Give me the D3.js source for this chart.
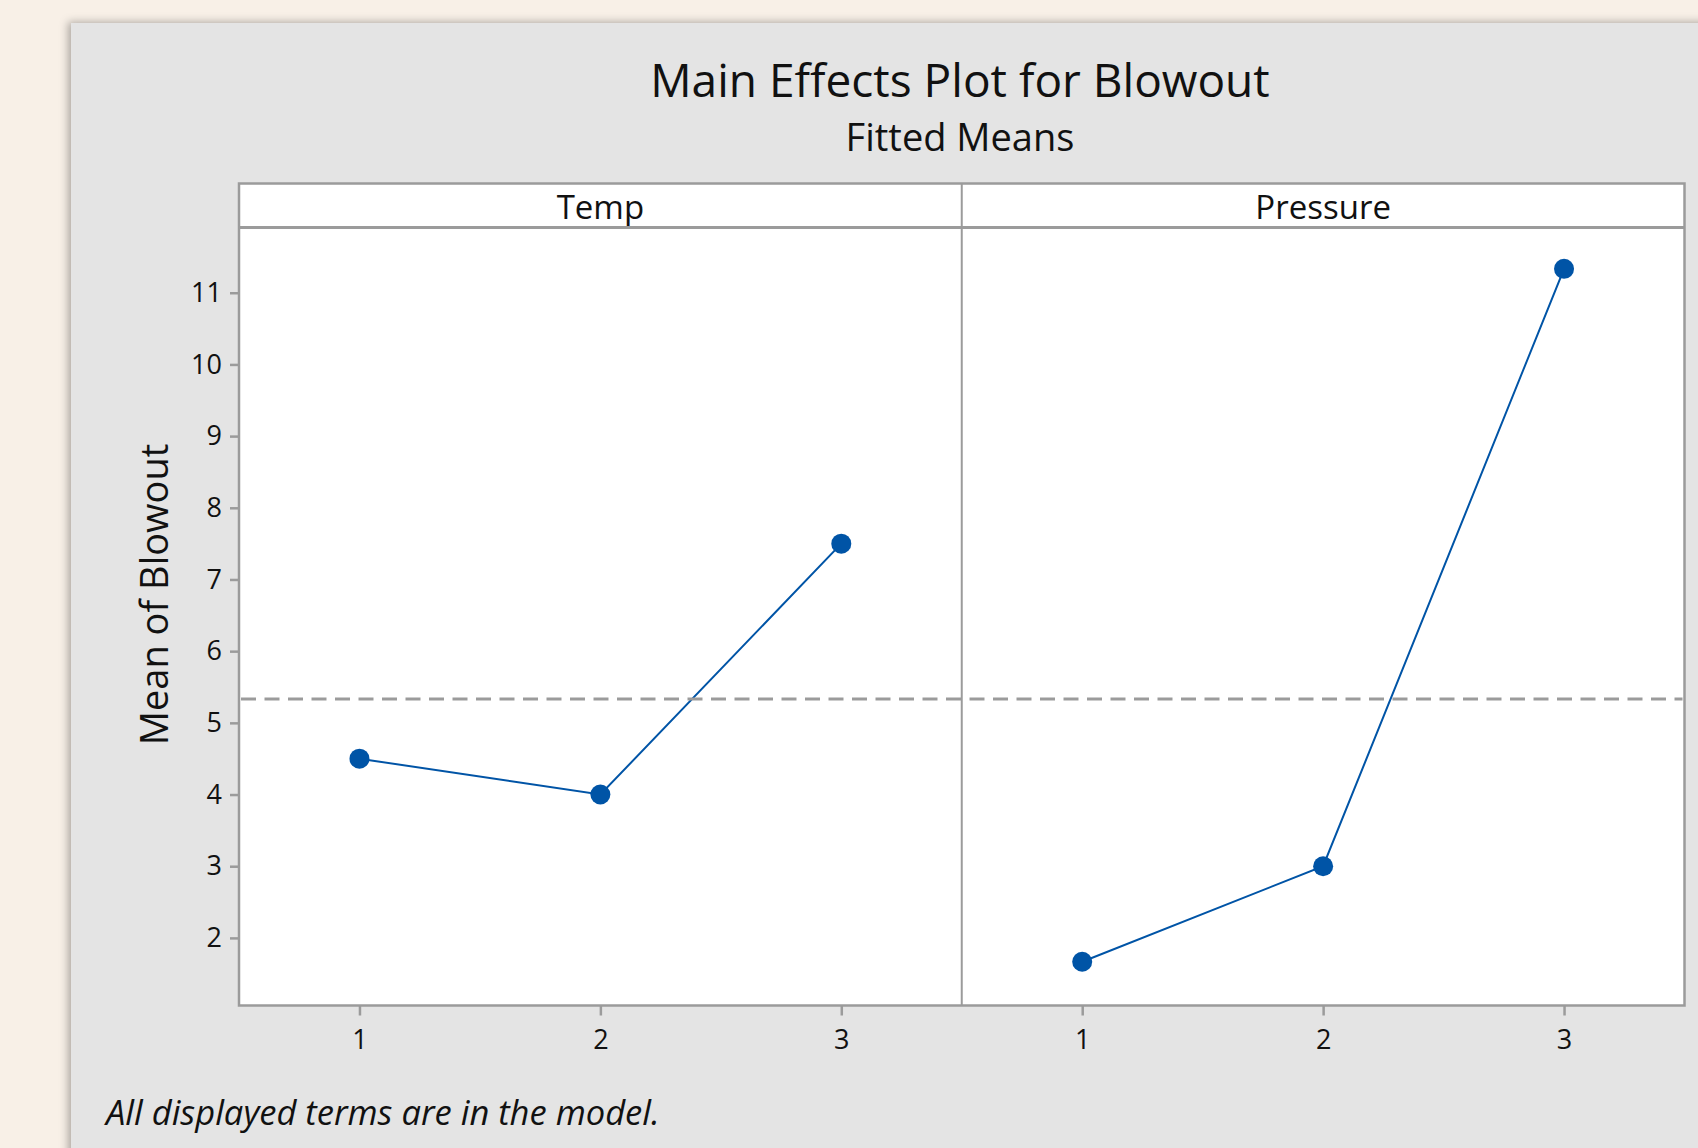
<!DOCTYPE html>
<html>
<head>
<meta charset="utf-8">
<script src="https://cdn.jsdelivr.net/npm/d3@7"></script>
<style>
  html, body { margin: 0; padding: 0; background: #f8f0e7; }
  svg { display: block; }
  text { font-family: 'Open Sans', 'Noto Sans', sans-serif; fill: #111; }
</style>
</head>
<body>
<div id="chart"></div>
<script>
// Data
const factors = ['Temp', 'Pressure']
const levels = ['1', '2', '3']
const tempMeans = [4.5, 4.0, 7.5]
const pressureMeans = [1.667, 3.0, 11.333]
const yTicks = [2, 3, 4, 5, 6, 7, 8, 9, 10, 11]

// Text
const titleText = 'Main Effects Plot for Blowout'
const subtitleText = 'Fitted Means'
const yLabelText = 'Mean of Blowout'
const footText = 'All displayed terms are in the model.'

// Colors
const pageColor = '#f8f0e7'
const boxColor = '#e4e4e4'
const frameColor = '#9b9b9b'
const lineColor = '#0054a6'

// Dimensions
const width = 1698
const height = 1148
const plotLeft = 239
const plotRight = 1684.5
const stripTop = 183.5
const stripBottom = 227.5
const plotBottom = 1005.5
const yDomain = [1.057, 11.91]

const svg = d3.select('#chart')
    .append('svg')
    .attr('width', width)
    .attr('height', height)

const defs = svg.append('defs')
const shadow = defs.append('filter')
    .attr('id', 'shadow')
    .attr('x', '-5%').attr('y', '-5%')
    .attr('width', '110%').attr('height', '110%')
shadow.append('feDropShadow')
    .attr('dx', -3).attr('dy', -1)
    .attr('stdDeviation', 4)
    .attr('flood-color', '#000')
    .attr('flood-opacity', 0.3)

svg.append('rect')
    .attr('width', width).attr('height', height)
    .attr('fill', pageColor)

svg.append('rect')
    .attr('x', 71).attr('y', 23)
    .attr('width', width).attr('height', height)
    .attr('fill', boxColor)
    .attr('filter', 'url(#shadow)')

// Titles
svg.append('text')
    .attr('x', 960).attr('y', 97)
    .attr('text-anchor', 'middle')
    .style('font-size', '46px')
    .text(titleText)

svg.append('text')
    .attr('x', 960).attr('y', 151)
    .attr('text-anchor', 'middle')
    .style('font-size', '38px')
    .text(subtitleText)

// Scales
const y = d3.scaleLinear().domain(yDomain).range([plotBottom, stripBottom])
const panelWidth = (plotRight - plotLeft) / factors.length
const seriesList = [tempMeans, pressureMeans]
const grandMean = d3.mean(tempMeans)

// Panels
factors.forEach((name, i) => {
    const x0 = plotLeft + i * panelWidth
    const x1 = x0 + panelWidth
    const x = d3.scalePoint().domain(levels).range([x0, x1]).padding(0.5)

    svg.append('rect')
        .attr('x', x0).attr('y', stripTop)
        .attr('width', panelWidth).attr('height', plotBottom - stripTop)
        .attr('fill', '#fff')

    svg.append('text')
        .attr('x', (x0 + x1) / 2).attr('y', 219)
        .attr('text-anchor', 'middle')
        .style('font-size', '33px')
        .text(name)

    const xAxis = svg.append('g')
        .attr('transform', `translate(0,${plotBottom})`)
        .call(d3.axisBottom(x).tickSize(10).tickPadding(14))
    xAxis.select('.domain').remove()
    xAxis.selectAll('line').attr('stroke', frameColor).attr('stroke-width', 2.5)
    xAxis.selectAll('text').style('font-size', '27px').attr('fill', '#000')
        .style('font-family', "'Open Sans', sans-serif")

    const vals = seriesList[i]
    const line = d3.line()
        .x((d, j) => x(levels[j]))
        .y(d => y(d))

    svg.append('path')
        .datum(vals)
        .attr('d', line)
        .attr('fill', 'none')
        .attr('stroke', lineColor)
        .attr('stroke-width', 2)

    svg.selectAll(null)
        .data(vals)
        .enter()
        .append('circle')
        .attr('cx', (d, j) => x(levels[j]))
        .attr('cy', d => y(d))
        .attr('r', 10)
        .attr('fill', lineColor)
})

// Reference line (grand mean)
svg.append('line')
    .attr('x1', plotLeft + 2).attr('x2', plotRight - 2)
    .attr('y1', y(grandMean)).attr('y2', y(grandMean))
    .attr('stroke', frameColor)
    .attr('stroke-width', 3)
    .attr('stroke-dasharray', '15 8.5')
// Keep markers on top of the reference line
svg.selectAll('circle').raise()

// Frames
const frame = svg.append('g')
    .attr('fill', 'none')
    .attr('stroke', frameColor)
    .attr('stroke-width', 2.5)
frame.append('rect')
    .attr('x', plotLeft).attr('y', stripTop)
    .attr('width', plotRight - plotLeft).attr('height', plotBottom - stripTop)
frame.append('line')
    .attr('x1', plotLeft).attr('x2', plotRight)
    .attr('y1', stripBottom).attr('y2', stripBottom)
    .attr('stroke-width', 3)
frame.append('line')
    .attr('x1', plotLeft + panelWidth).attr('x2', plotLeft + panelWidth)
    .attr('y1', stripTop).attr('y2', plotBottom)
    .attr('stroke-width', 2)

// Y axis
const yAxis = svg.append('g')
    .attr('transform', `translate(${plotLeft},0)`)
    .call(d3.axisLeft(y).tickValues(yTicks).tickSize(9).tickPadding(8))
yAxis.select('.domain').remove()
yAxis.selectAll('line').attr('stroke', frameColor).attr('stroke-width', 2.5)
yAxis.selectAll('text').style('font-size', '27px').attr('fill', '#000')
    .style('font-family', "'Open Sans', sans-serif")

svg.append('text')
    .attr('transform', `translate(168,${(stripTop + plotBottom) / 2}) rotate(-90)`)
    .attr('text-anchor', 'middle')
    .style('font-size', '38px')
    .text(yLabelText)

// Footnote
svg.append('text')
    .attr('x', 106).attr('y', 1125)
    .style('font-size', '34.5px')
    .style('font-style', 'italic')
    .text(footText)
</script>
</body>
</html>
